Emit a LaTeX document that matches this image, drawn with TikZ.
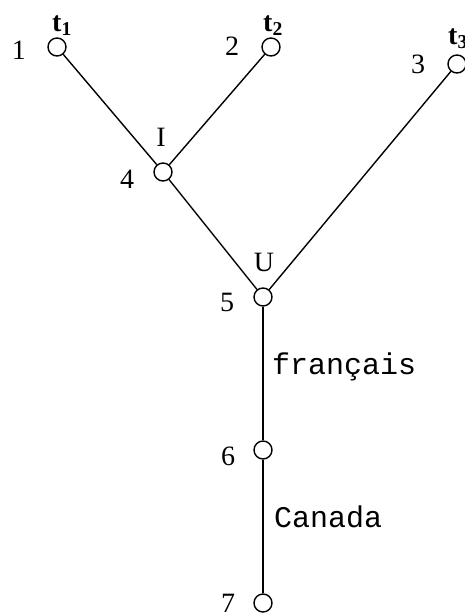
\documentclass[tikz,border=0pt]{standalone}
\usepackage{fontspec}
\setmainfont{Liberation Serif}
\newfontfamily\monofont{Liberation Mono}
\usepackage{tikz}
\usetikzlibrary{positioning}

\begin{document}
\begin{tikzpicture}[x=1pt, y=-1pt,
  vertex/.style={circle, draw, fill=white, line width=1.4pt, minimum size=18pt, inner sep=0pt},
  numlabel/.style={inner sep=0pt, font=\fontsize{28}{30}\selectfont},
  termlabel/.style={inner sep=0pt, anchor=base west, font=\fontsize{28}{30}\selectfont\bfseries},
  wordlabel/.style={inner sep=0pt, anchor=west, font=\fontsize{30}{32}\selectfont\monofont},
  edge/.style={line width=1.4pt}
]
\useasboundingbox (0,0) rectangle (465,613);

% Vertices
\node[vertex] (v1) at (57, 47) {};
\node[vertex] (v2) at (271, 47) {};
\node[vertex] (v3) at (457, 64) {};
\node[vertex] (v4) at (163, 172) {};
\node[vertex] (v5) at (263, 297) {};
\node[vertex] (v6) at (263, 450) {};
\node[vertex] (v7) at (263, 603) {};

% Numbers
\node[numlabel] (n1) at (19, 50) {1};
\node[numlabel] (n2) at (232, 46) {2};
\node[numlabel] (n3) at (418, 64) {3};
\node[numlabel] (n4) at (127, 179) {4};
\node[numlabel] (n5) at (227, 302) {5};
\node[numlabel] (n6) at (228, 456) {6};
\node[numlabel] (n7) at (228, 603) {7};

% Terms and operators
\node[termlabel] (t1) at (52, 31) {t\textsubscript{1}};
\node[termlabel] (t2) at (263, 31) {t\textsubscript{2}};
\node[termlabel] (t3) at (448, 44) {t\textsubscript{3}};
\node[numlabel] (opI) at (161, 137) {I};
\node[numlabel] (opU) at (264, 262) {U};

% Words
\node[wordlabel] (w1) at (272, 367) {français};
\node[wordlabel] (w2) at (274, 517) {Canada};

% Connections
\draw[edge] (v1) -- (v4);
\draw[edge] (v2) -- (v4);
\draw[edge] (v4) -- (v5);
\draw[edge] (v3) -- (v5);
\draw[edge] (v5) -- (v6);
\draw[edge] (v6) -- (v7);

\end{tikzpicture}
\end{document}
